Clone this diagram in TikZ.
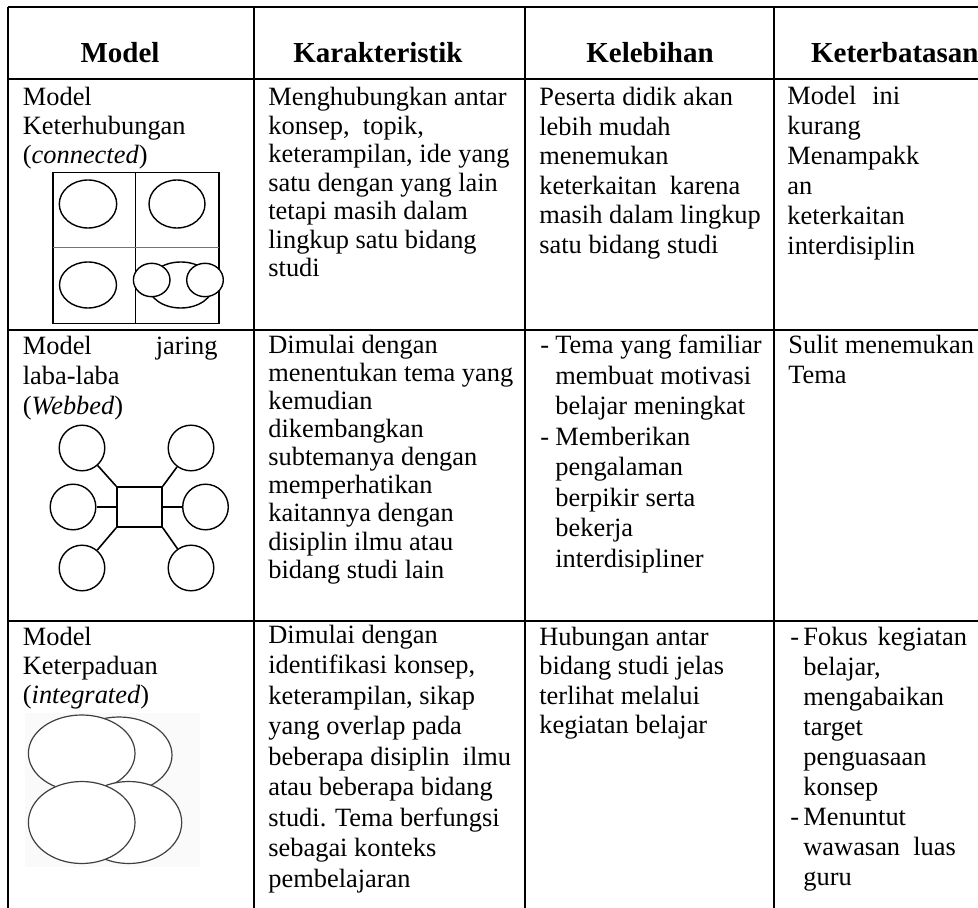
\documentclass[tikz,border=0pt]{standalone}
\usepackage{fontspec}
\setmainfont{Liberation Serif}
\usetikzlibrary{shapes.geometric}
\newcommand{\lines}[1]{\begin{tabular}[t]{@{}l@{}}#1\end{tabular}}
\newcommand{\bul}[1]{\makebox[#1][l]{-}}
\begin{document}
\begin{tikzpicture}[x=0.5pt,y=-0.5pt,
  rule/.style={line width=1pt},
  hd/.style={anchor=base, inner sep=0pt, font=\fontsize{14.5}{16}\selectfont\bfseries},
  txt/.style={anchor=base west, inner sep=0pt, font=\fontsize{13.2}{#1}\selectfont},
  txt/.default=14.5pt,
  ring/.style={ellipse, draw, line width=0.7pt, fill=white, inner sep=0pt},
  ov/.style={ellipse, draw=black!75, line width=0.6pt, fill=white, inner sep=0pt},
  web/.style={circle, draw, line width=0.7pt, fill=white, inner sep=0pt, minimum size=22.8pt},
  link/.style={line width=0.8pt},
]
\useasboundingbox (0,0) rectangle (978,908);

% table rules
\draw[rule] (8,7) -- (978,7);
\draw[rule] (8,79) -- (978,79);
\draw[rule] (8,330) -- (978,330);
\draw[rule] (8,621) -- (978,621);
\foreach \x in {8,254,525,774} \draw[rule] (\x,7) -- (\x,908);

% header
\node[hd] (h1) at (120,63) {Model};
\node[hd] (h2) at (378,63) {Karakteristik};
\node[hd] (h3) at (650,63) {Kelebihan};
\node[hd, anchor=base east] (h4) at (979,63) {Keterbatasan};

% row 1
\node[txt=14.5pt] (r1c1) at (22.5,106) {\lines{Model\\Keterhubungan\\(\textit{connected})}};
\node[txt=14.25pt] (r1c2) at (268,106) {\lines{Menghubungkan antar\\konsep,\ \ topik,\\keterampilan, ide yang\\satu dengan yang lain\\tetapi masih dalam\\lingkup satu bidang\\studi}};
\node[txt=14.75pt] (r1c3) at (539,106) {\lines{Peserta didik akan\\lebih mudah\\menemukan\\keterkaitan\ \ karena\\masih dalam lingkup\\satu bidang studi}};
\node[txt=15pt] (r1c4) at (787,105) {\lines{Model\hspace{8pt}ini\\kurang\\Menampakk\\an\\keterkaitan\\interdisiplin}};

% connected figure
\draw[line width=0.6pt] (53,172.7) rectangle (219,323.3);
\draw[line width=0.6pt] (135.7,172.7) -- (135.7,323.3);
\draw[line width=0.6pt, black!55] (53,247.7) -- (219,247.7);
\node[ring, minimum width=28.7pt, minimum height=24pt] (k1) at (88,204) {};
\node[ring, minimum width=28pt, minimum height=24pt] (k2) at (177,204) {};
\node[ring, minimum width=28.5pt, minimum height=23pt] (k3) at (88,285) {};
\node[ring, minimum width=32.5pt, minimum height=23pt] (k4) at (180.8,285) {};
\node[ring, minimum width=18.3pt, minimum height=16.7pt] (k5) at (151.7,280) {};
\node[ring, minimum width=18.3pt, minimum height=16.7pt] (k6) at (205,280) {};

% row 2
\node[txt=15pt] (r2c1) at (22.5,355) {\lines{\makebox[97.3pt][l]{Model\hfill jaring}\\laba-laba\\(\textit{Webbed})}};
\node[txt=14pt] (r2c2) at (268,354) {\lines{Dimulai dengan\\menentukan tema yang\\kemudian\\dikembangkan\\subtemanya dengan\\memperhatikan\\kaitannya dengan\\disiplin ilmu atau\\bidang studi lain}};
\node[txt=15.25pt] (r2c3) at (540,354) {\lines{\bul{7.5pt}Tema yang familiar\\\hspace*{7.5pt}membuat motivasi\\\hspace*{7.5pt}belajar meningkat\\\bul{7.5pt}Memberikan\\\hspace*{7.5pt}pengalaman\\\hspace*{7.5pt}berpikir serta\\\hspace*{7.5pt}bekerja\\\hspace*{7.5pt}interdisipliner}};
\node[txt=15pt] (r2c4) at (788,354) {\lines{Sulit menemukan\\Tema}};

% webbed figure
\node[draw, line width=0.8pt, fill=white, inner sep=0pt, minimum width=22.5pt, minimum height=20pt] (sq) at (139.5,507) {};
\node[web] (w1) at (82,448) {};
\node[web] (w2) at (191,448) {};
\node[web] (w3) at (73,507) {};
\node[web] (w4) at (205.5,507) {};
\node[web] (w5) at (82,568) {};
\node[web] (w6) at (191,568) {};
\draw[link] (w1) -- (sq.north west);
\draw[link] (w2) -- (sq.north east);
\draw[link] (w3) -- (sq.west);
\draw[link] (w4) -- (sq.east);
\draw[link] (w5) -- (sq.south west);
\draw[link] (w6) -- (sq.south east);

% row 3
\node[txt=14.5pt] (r3c1) at (22.5,645) {\lines{Model\\Keterpaduan\\(\textit{integrated})}};
\node[txt=15.25pt] (r3c2) at (268,643) {\lines{Dimulai dengan\\identifikasi konsep,\\keterampilan, sikap\\yang overlap pada\\beberapa disiplin\ \ ilmu\\atau beberapa bidang\\studi. Tema berfungsi\\sebagai konteks\\pembelajaran}};
\node[txt=14.75pt] (r3c3) at (539,645) {\lines{Hubungan antar\\bidang studi jelas\\terlihat melalui\\kegiatan belajar}};
\node[txt=15pt] (r3c4) at (790,645) {\lines{\bul{6.5pt}Fokus\hspace{1.5pt} kegiatan\\\hspace*{6.5pt}belajar,\\\hspace*{6.5pt}mengabaikan\\\hspace*{6.5pt}target\\\hspace*{6.5pt}penguasaan\\\hspace*{6.5pt}konsep\\\bul{6.5pt}Menuntut\\\hspace*{6.5pt}wawasan\ \ luas\\\hspace*{6.5pt}guru}};

% integrated figure
\fill[black!2] (25,713) rectangle (200,867);
\node[ov, minimum width=53pt, minimum height=38pt] (e2) at (119,755) {};
\node[ov, minimum width=53.3pt, minimum height=38.3pt] (e1) at (81.7,753.3) {};
\node[ov, minimum width=53pt, minimum height=41pt] (e4) at (128.7,822.5) {};
\node[ov, minimum width=53.3pt, minimum height=41pt] (e3) at (81.7,822.5) {};
\end{tikzpicture}
\end{document}
